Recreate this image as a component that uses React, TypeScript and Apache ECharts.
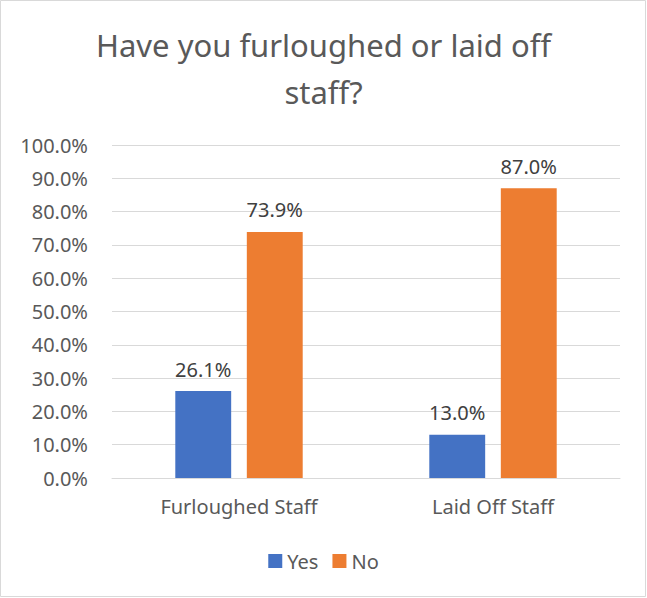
import React, { useEffect, useRef } from "react";
import * as echarts from "echarts";

const categories = ["Furloughed Staff", "Laid Off Staff"];
const yesValues = [26.1, 13.0];
const noValues = [73.9, 87.0];
const seriesNames = ["Yes", "No"];
const titleText = "Have you furloughed or laid off\nstaff?";

export default function App() {
  const ref = useRef<HTMLDivElement>(null);
  useEffect(() => {
    document.body.style.margin = "0";
    const chart = echarts.init(ref.current!, null, { renderer: "svg" });
    const font = "Noto Sans";
    const labelCommon = {
      show: true,
      position: "top",
      distance: 12,
      fontFamily: font,
      fontSize: 20,
      color: "#404040",
      formatter: (p: any) => p.value.toFixed(1) + "%",
    };
    chart.setOption({
      animation: false,
      backgroundColor: "#ffffff",
      textStyle: { fontFamily: font },
      title: {
        text: titleText,
        left: "center",
        top: 16,
        textStyle: {
          fontFamily: font,
          fontSize: 31,
          fontWeight: "normal",
          color: "#595959",
          lineHeight: 47,
        },
      },
      graphic: [
        {
          type: "rect",
          shape: { x: 0.5, y: 0.5, width: 645, height: 596 },
          style: { fill: "none", stroke: "#d9d9d9", lineWidth: 1 },
          silent: true,
        },
      ],
      legend: {
        bottom: 22,
        left: "center",
        itemWidth: 14,
        itemHeight: 14,
        itemGap: 14,
        icon: "rect",
        textStyle: { fontFamily: font, fontSize: 20, color: "#595959" },
        data: seriesNames,
      },
      grid: { left: 112, right: 27, top: 145, bottom: 120, containLabel: false },
      xAxis: {
        type: "category",
        data: categories,
        axisLine: { lineStyle: { color: "#d9d9d9", width: 1 } },
        axisTick: { show: false },
        axisLabel: { fontFamily: font, fontSize: 20, color: "#595959", margin: 18 },
      },
      yAxis: {
        type: "value",
        min: 0,
        max: 100,
        interval: 10,
        axisLine: { show: false },
        axisTick: { show: false },
        splitLine: { lineStyle: { color: "#d9d9d9", width: 1 } },
        axisLabel: {
          fontFamily: font,
          fontSize: 20,
          color: "#595959",
          margin: 24,
          formatter: (v: number) => v.toFixed(1) + "%",
        },
      },
      series: [
        {
          name: seriesNames[0],
          type: "bar",
          data: yesValues,
          barWidth: "22%",
          barGap: "28%",
          itemStyle: { color: "#4472c4" },
          label: labelCommon,
        },
        {
          name: seriesNames[1],
          type: "bar",
          data: noValues,
          barWidth: "22%",
          barGap: "28%",
          itemStyle: { color: "#ed7d31" },
          label: labelCommon,
        },
      ],
    });
    return () => chart.dispose();
  }, []);
  return <div ref={ref} style={{ width: 647, height: 598 }} />;
}
